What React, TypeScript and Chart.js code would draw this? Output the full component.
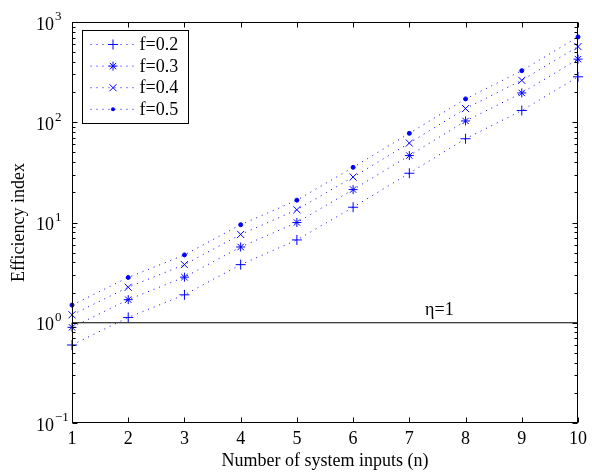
import React, { useEffect, useRef } from "react";
import { Chart, registerables } from "chart.js";

Chart.register(...registerables);

const nValues = [1, 2, 3, 4, 5, 6, 7, 8, 9, 10];
const f02 = [0.6, 1.13, 1.9, 3.8, 6.7, 14.2, 31, 68.5, 131, 284];
const f03 = [0.9, 1.7, 2.85, 5.7, 10.0, 21.3, 46.5, 103, 196, 426];
const f04 = [1.2, 2.26, 3.8, 7.6, 13.4, 28.4, 62, 137, 262, 568];
const f05 = [1.5, 2.83, 4.75, 9.5, 16.7, 35.5, 77.5, 171, 327, 710];
const seriesLabels = ["f=0.2", "f=0.3", "f=0.4", "f=0.5"];
const etaX = [1, 10];
const etaY = [1, 1];
const etaLabel = "η=1";
const etaLabelX = 7.28;
const yExponents = [-1, 0, 1, 2, 3];
const xTicks = [1, 2, 3, 4, 5, 6, 7, 8, 9, 10];

const FONT = "'Liberation Serif', 'Times New Roman', serif";
const BLUE = "#0000ff";
const markerStyles = ["cross", "star", "crossRot", "circle"];
const markerRadius = [5, 4.5, 5, 2];

function drawMarker(ctx: CanvasRenderingContext2D, style: string, x: number, y: number, r: number) {
  ctx.beginPath();
  if (style === "cross" || style === "star") {
    ctx.moveTo(x - r, y);
    ctx.lineTo(x + r, y);
    ctx.moveTo(x, y - r);
    ctx.lineTo(x, y + r);
  }
  if (style === "crossRot" || style === "star") {
    const d = r * 0.7071;
    ctx.moveTo(x - d, y - d);
    ctx.lineTo(x + d, y + d);
    ctx.moveTo(x - d, y + d);
    ctx.lineTo(x + d, y - d);
  }
  if (style === "circle") {
    ctx.arc(x, y, r, 0, Math.PI * 2);
    ctx.fill();
    return;
  }
  ctx.stroke();
}

const framePlugin = {
  id: "frame",
  afterDraw(chart: any) {
    const { ctx, chartArea: a, scales } = chart;
    const xs = scales.x;
    const ys = scales.y;
    ctx.save();
    ctx.strokeStyle = "#000";
    ctx.lineWidth = 1;
    const L = Math.round(a.left) + 0.5;
    const R = Math.round(a.right) - 0.5;
    const T = Math.round(a.top) + 0.5;
    const B = Math.round(a.bottom) - 0.5;
    ctx.strokeRect(L, T, R - L, B - T);
    ctx.beginPath();
    for (const n of xTicks) {
      const px = Math.round(xs.getPixelForValue(n)) + 0.5;
      ctx.moveTo(px, B);
      ctx.lineTo(px, B - 5);
      ctx.moveTo(px, T);
      ctx.lineTo(px, T + 5);
    }
    for (const k of yExponents) {
      const py = Math.round(ys.getPixelForValue(Math.pow(10, k))) + 0.5;
      ctx.moveTo(L, py);
      ctx.lineTo(L + 5, py);
      ctx.moveTo(R, py);
      ctx.lineTo(R - 5, py);
      if (k < 3) {
        for (let m = 2; m <= 9; m++) {
          const qy = Math.round(ys.getPixelForValue(m * Math.pow(10, k))) + 0.5;
          ctx.moveTo(L, qy);
          ctx.lineTo(L + 3, qy);
          ctx.moveTo(R, qy);
          ctx.lineTo(R - 3, qy);
        }
      }
    }
    ctx.stroke();

    // y tick labels 10^k
    ctx.fillStyle = "#000";
    ctx.textBaseline = "middle";
    ctx.textAlign = "left";
    for (const k of yExponents) {
      const py = ys.getPixelForValue(Math.pow(10, k));
      ctx.font = `18px ${FONT}`;
      const baseX = 36;
      ctx.fillText("10", baseX, py + 3);
      const w = ctx.measureText("10").width;
      ctx.font = `13px ${FONT}`;
      ctx.fillText(k < 0 ? "−" + Math.abs(k) : String(k), baseX + w + 1, py - 5);
    }

    // eta label
    ctx.font = `18px ${FONT}`;
    ctx.textBaseline = "bottom";
    ctx.fillText(etaLabel, xs.getPixelForValue(etaLabelX), ys.getPixelForValue(etaY[0]) - 3);

    // legend
    const x0 = Math.round(a.left) + 10.5;
    const y0 = Math.round(a.top) + 8.5;
    ctx.fillStyle = "#fff";
    ctx.fillRect(x0, y0, 106, 93);
    ctx.strokeStyle = "#000";
    ctx.strokeRect(x0, y0, 106, 93);
    ctx.textBaseline = "middle";
    seriesLabels.forEach((lab, i) => {
      const yy = y0 + 14 + i * 21.6;
      ctx.strokeStyle = BLUE;
      ctx.fillStyle = BLUE;
      ctx.setLineDash([1, 5]);
      ctx.beginPath();
      ctx.moveTo(x0 + 8, yy);
      ctx.lineTo(x0 + 53, yy);
      ctx.stroke();
      ctx.setLineDash([]);
      drawMarker(ctx, markerStyles[i], x0 + 30.5, yy, markerRadius[i]);
      ctx.fillStyle = "#000";
      ctx.fillText(lab, x0 + 57, yy + 1);
    });
    ctx.restore();
  },
};

export default function App() {
  const ref = useRef<HTMLCanvasElement | null>(null);
  useEffect(() => {
    if (!ref.current) return;
    Chart.defaults.font.family = FONT;
    const series = [f02, f03, f04, f05];
    const datasets: any[] = series.map((vals, i) => ({
      label: seriesLabels[i],
      data: nValues.map((n, j) => ({ x: n, y: vals[j] })),
      borderColor: BLUE,
      backgroundColor: BLUE,
      borderWidth: 1,
      borderDash: [1, 5],
      pointStyle: markerStyles[i],
      pointRadius: markerRadius[i],
      pointBorderWidth: 1,
      pointBorderColor: BLUE,
      pointBackgroundColor: BLUE,
      tension: 0,
      clip: false,
      fill: false,
    }));
    datasets.unshift({
      label: "eta",
      data: etaX.map((x, j) => ({ x, y: etaY[j] })),
      borderColor: "#000",
      borderWidth: 1,
      pointRadius: 0,
      fill: false,
    });
    const chart = new Chart(ref.current, {
      type: "line",
      data: { datasets },
      options: {
        animation: false,
        responsive: false,
        devicePixelRatio: 1,
        layout: { padding: { top: 22, right: 14, left: 0, bottom: 0 } },
        plugins: { legend: { display: false }, tooltip: { enabled: false } },
        scales: {
          x: {
            type: "linear",
            min: 1,
            max: 10,
            grid: { display: false, drawTicks: false },
            border: { display: false },
            ticks: {
              stepSize: 1,
              color: "#000",
              font: { size: 18, family: FONT },
              padding: 5,
            },
            title: {
              display: true,
              text: "Number of system inputs (n)",
              color: "#000",
              font: { size: 18, family: FONT },
              padding: { top: 0, bottom: 0 },
            },
            afterFit: (s: any) => {
              s.height = 49;
            },
          },
          y: {
            type: "logarithmic",
            min: 0.1,
            max: 1000,
            grid: { display: false, drawTicks: false },
            border: { display: false },
            ticks: { display: false },
            title: {
              display: true,
              text: "Efficiency index",
              color: "#000",
              font: { size: 18, family: FONT },
              padding: { top: 8, bottom: 0 },
            },
            afterFit: (s: any) => {
              s.width = 72;
            },
          },
        },
      },
      plugins: [framePlugin],
    });
    return () => chart.destroy();
  }, []);
  return (
    <div style={{ position: "absolute", left: 0, top: 0, width: 592, height: 472, background: "#fff" }}>
      <canvas ref={ref} width={592} height={472} />
    </div>
  );
}
